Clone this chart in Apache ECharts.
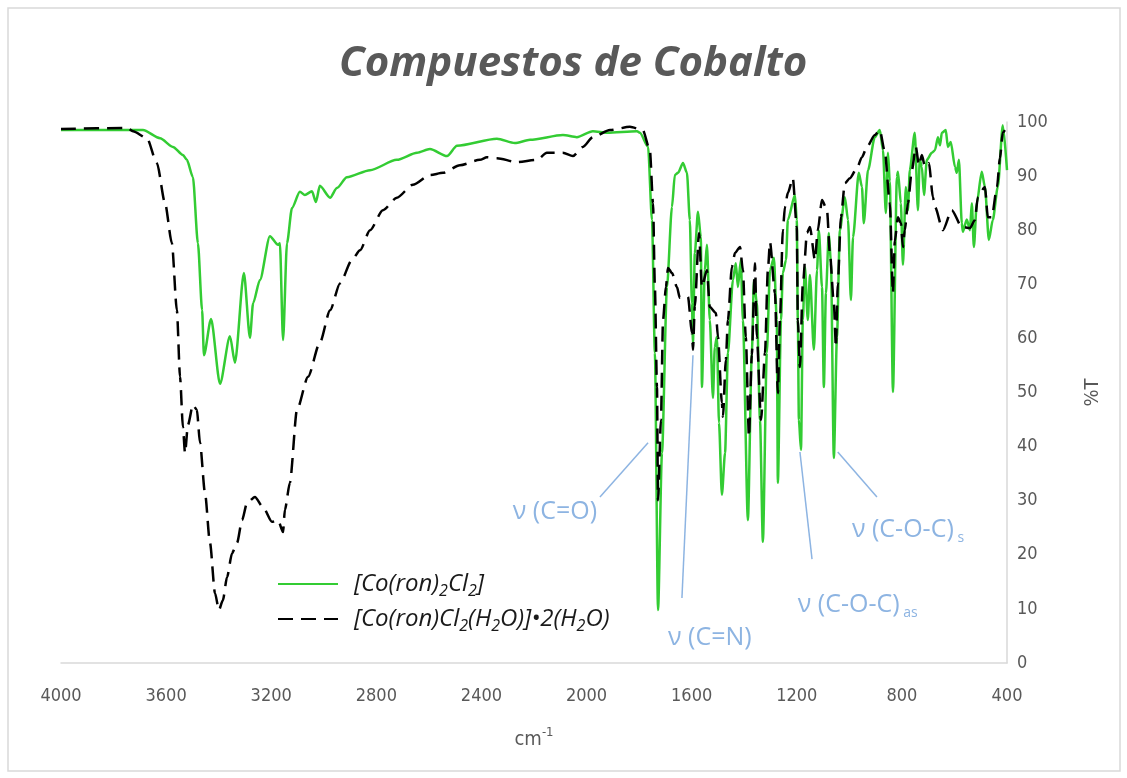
<!DOCTYPE html>
<html>
<head>
<meta charset="utf-8">
<script src="https://cdn.jsdelivr.net/npm/echarts@6/dist/echarts.min.js"></script>
<style>
html,body{margin:0;padding:0;background:#fff;}
#chart{width:1127px;height:778px;}
</style>
</head>
<body>
<div id="chart"></div>
<script>
// ---- data ----
const titleText = 'Compuestos de Cobalto';
const seriesNames = ['[Co(ron)2Cl2]', '[Co(ron)Cl2(H2O)]•2(H2O)'];
const xTicks = [4000, 3600, 3200, 2800, 2400, 2000, 1600, 1200, 800, 400];

const greenWn = [4000,3688,3623,3574,3536,3521,3498,3479,3463,3456,3429,3395,3357,3338,3304,3281,3269,3243,3205,3174,3167,3155,3140,3121,3091,3072,3045,3030,3015,2976,2950,2912,2824,2722,2645,2596,2531,2493,2341,2273,2215,2090,2037,1976,1922,1808,1797,1766,1751,1740,1728,1713,1694,1675,1664,1652,1633,1618,1607,1599,1595,1588,1576,1565,1561,1550,1542,1531,1519,1512,1504,1496,1485,1473,1462,1443,1432,1424,1413,1405,1386,1371,1363,1352,1340,1329,1314,1302,1287,1276,1272,1260,1253,1241,1234,1207,1200,1196,1192,1184,1177,1169,1158,1150,1135,1123,1116,1104,1097,1089,1078,1070,1059,1047,1036,1017,1005,994,986,964,952,945,929,903,884,872,861,853,846,834,819,815,804,796,785,777,770,751,739,732,724,716,705,686,674,663,655,648,633,625,614,598,591,583,572,568,553,541,534,526,515,496,484,469,454,435,416,400];
const greenT = [98.5,98.5,97,95.4,93.9,93,89.8,77.6,65.2,56.9,63.6,51.6,60.4,55.5,72.1,60.1,66.5,70.8,78.9,77.3,77.6,59.7,77.6,84.1,87.1,86.5,87.2,85.2,88.2,86,87.8,89.8,91.1,93,94.3,95,93.7,95.6,96.9,96.1,96.7,97.6,97.2,98.3,98,98.3,98,95.4,81.9,57.3,9.8,38.8,69.5,84.3,90.2,90.6,92.4,90.6,81.9,66.5,59.3,75.8,83.4,78.7,51,72.6,77.3,63.4,49,58.4,60.3,44.4,31.1,38.8,57.3,70.8,73.9,69.5,74.5,63.4,26.4,57.3,70.8,66.5,44.9,22.4,57.3,72.6,74.9,63.4,33.3,63.4,72.1,74.5,81.9,86.5,81.9,63.4,44.9,39.4,63.4,73.2,63.4,71.7,57.9,72.6,80,69.5,51,68.4,79.5,73.9,37.9,60.3,80,86.1,81.9,67.1,78.7,90.6,88,81.3,91.1,97.2,98.5,94.8,83.2,94.3,89,50.1,89.8,90.8,85,73.6,88,83.7,91.1,98,83.7,93,91.7,86.5,93,94.3,94.8,97.2,95.7,98,98.5,95.4,96.3,91.7,90.6,93,81.3,79.7,82,80,85,76.9,85,90.8,88,78.2,81.9,88,99.4,91.1];

const blackWn = [4000,3749,3726,3673,3635,3604,3578,3559,3547,3536,3528,3517,3498,3483,3471,3452,3433,3414,3399,3384,3368,3349,3330,3311,3292,3262,3231,3197,3174,3155,3148,3129,3102,3060,3015,2976,2938,2893,2862,2824,2775,2722,2661,2596,2546,2482,2406,2379,2341,2265,2189,2151,2090,2052,2014,1976,1911,1835,1786,1759,1747,1740,1732,1728,1717,1709,1698,1690,1675,1656,1645,1614,1599,1595,1588,1572,1561,1542,1531,1508,1500,1485,1481,1470,1462,1447,1435,1416,1405,1394,1382,1371,1359,1352,1336,1321,1310,1302,1283,1272,1264,1253,1245,1234,1215,1200,1196,1188,1177,1161,1150,1131,1120,1104,1085,1074,1059,1051,1044,1032,1017,998,971,952,933,903,884,865,846,834,827,815,804,796,789,777,762,747,735,724,712,697,682,674,644,610,572,541,522,511,484,473,458,438,427,416,408];
const blackT = [98.7,98.9,98.3,97,92.4,85,77.6,65.2,52.9,43.6,38.8,44,47.7,46.8,40.7,31.4,22.2,12.9,9.8,11.6,15.9,20.3,22.2,26.4,29.6,30.7,28.8,26.1,26.4,24.2,28.3,33.3,46.8,52.9,59.2,65.2,70.2,74.5,76.3,80,83.7,86,88.4,90.2,90.6,92,93,93.5,93.3,92.6,93,94.3,94.3,93.7,95.4,97.2,98.5,99.1,98.5,94.8,85,69.5,51,30.1,44.9,63.4,69.5,73,72.1,69.5,67.5,67.7,61,57.9,66,79.5,69.5,72.6,65.8,64.7,60.3,48.1,45.5,56,63.4,73.2,75.8,76.9,72.6,60.3,41.8,57,73.9,60.3,44.9,57.3,72.6,77.8,68.4,49.9,63.4,80,84.3,86.9,89.6,80.6,63.4,54.7,70,79.5,80.6,74.5,80,85.6,83.7,75.8,66.5,58.4,70,82.4,88.7,89.6,91.5,93.5,95.4,97.6,98.5,94.5,85,68.4,78,82.4,81.3,76.9,80,85,91.1,95.4,92,93.9,91.7,92.4,86.1,84.3,80,83.7,80.6,80.4,81.9,86.1,88,82.4,82.4,88,93.3,98,98.5];

// annotation labels: text, label anchor [wn, %T], pointer line from -> to
const annotations = [
  {main: 'ν (C=O)', sub: '', anchor: [1960, 27.9], align: 'right', from: [1949, 30.7], to: [1766, 40.7]},
  {main: 'ν (C=N)', sub: '', anchor: [1690, 4.6], align: 'left', from: [1637, 12], to: [1595, 56.9]},
  {main: 'ν (C-O-C)', sub: 'as', anchor: [1196, 10.7], align: 'left', from: [1142, 19.2], to: [1188, 39]},
  {main: 'ν (C-O-C)', sub: 's', anchor: [990, 24.6], align: 'left', from: [895, 30.7], to: [1044, 39]}
];

// ---- chart ----
const greenData = greenWn.map((w, i) => [w, greenT[i]]);
const blackData = blackWn.map((w, i) => [w, blackT[i]]);
const gray = '#595959';
const tickFont = '"Liberation Sans Narrow","DejaVu Sans Condensed","Open Sans",sans-serif';
const chart = echarts.init(document.getElementById('chart'), null, {renderer: 'canvas'});

const legendNames = {};
legendNames[seriesNames[0]] = '{g|}{t|[Co(ron)}{s|2}{t|Cl}{s|2}{t|]}';
legendNames[seriesNames[1]] = '{g|}{t|[Co(ron)Cl}{s|2}{t|(H}{s|2}{t|O)]•2(H}{s|2}{t|O)}';

chart.setOption({
  animation: false,
  backgroundColor: '#fff',
  title: {
    text: titleText,
    left: 334,
    top: 38,
    textStyle: {fontSize: 42, fontWeight: 'bold', fontStyle: 'italic', color: gray, fontFamily: '"Open Sans",sans-serif'}
  },
  grid: {left: 61, right: 120, top: 122, bottom: 115, containLabel: false},
  legend: {
    orient: 'vertical',
    left: 272,
    top: 567,
    itemWidth: 60,
    itemHeight: 14,
    itemGap: 8,
    itemStyle: {opacity: 0},
    formatter: n => legendNames[n],
    textStyle: {
      color: '#1a1a1a',
      rich: {
        g: {width: 11},
        t: {fontSize: 24, fontStyle: 'italic', fontFamily: '"Open Sans",sans-serif', color: '#1a1a1a', lineHeight: 30, verticalAlign: 'middle'},
        s: {fontSize: 16, fontStyle: 'italic', fontFamily: '"Open Sans",sans-serif', color: '#1a1a1a', lineHeight: 30, verticalAlign: 'bottom'}
      }
    },
    data: seriesNames
  },
  xAxis: {
    type: 'value',
    min: 400, max: 4000, interval: 400, inverse: true,
    axisLine: {show: true, onZero: false, lineStyle: {color: '#d9d9d9', width: 1.5}},
    axisTick: {show: false},
    splitLine: {show: false},
    axisLabel: {color: gray, fontSize: 18, fontFamily: tickFont, margin: 24,
      formatter: v => xTicks.indexOf(v) >= 0 ? String(v) : ''},
    name: '{a|cm}{b|-1}',
    nameLocation: 'middle',
    nameGap: 63,
    nameTextStyle: {
      rich: {
        a: {fontSize: 20, color: gray, fontFamily: tickFont, verticalAlign: 'bottom', lineHeight: 24},
        b: {fontSize: 13, color: gray, fontFamily: tickFont, verticalAlign: 'top', lineHeight: 24}
      }
    }
  },
  yAxis: {
    type: 'value',
    position: 'right',
    min: 0, max: 100, interval: 10,
    axisLine: {show: true, lineStyle: {color: '#d9d9d9', width: 1.5}},
    axisTick: {show: false},
    splitLine: {show: false},
    axisLabel: {color: gray, fontSize: 18, fontFamily: tickFont, margin: 10},
    name: '%T',
    nameLocation: 'middle',
    nameGap: 76,
    nameRotate: 90,
    nameTextStyle: {fontSize: 20, color: gray, fontFamily: tickFont}
  },
  series: [
    {
      name: seriesNames[0], type: 'line', data: greenData,
      showSymbol: false, symbol: 'none', smooth: 0.25, smoothMonotone: 'x',
      lineStyle: {color: '#33cc33', width: 2.5},
      itemStyle: {color: '#33cc33'},
      z: 3
    },
    {
      name: seriesNames[1], type: 'line', data: blackData,
      showSymbol: false, symbol: 'none', smooth: 0.25, smoothMonotone: 'x',
      lineStyle: {color: '#000', width: 2.5, type: [15, 8]},
      itemStyle: {color: '#000'},
      z: 4
    }
  ]
});

// annotations positioned through the chart's own coordinate system
const annColor = '#8db4e2';
const annFont = '"Liberation Sans Narrow","Open Sans",sans-serif';
const graphics = [{
  type: 'rect', shape: {x: 8, y: 8, width: 1112, height: 763},
  style: {fill: 'none', stroke: '#d9d9d9', lineWidth: 1.5}, silent: true, z: -1
}];
annotations.forEach(a => {
  const p1 = chart.convertToPixel({gridIndex: 0}, a.from);
  const p2 = chart.convertToPixel({gridIndex: 0}, a.to);
  const pa = chart.convertToPixel({gridIndex: 0}, a.anchor);
  graphics.push({
    type: 'line', shape: {x1: p1[0], y1: p1[1], x2: p2[0], y2: p2[1]},
    style: {stroke: annColor, lineWidth: 1.5}, silent: true, z: 10
  });
  graphics.push({
    type: 'text', x: pa[0], y: pa[1], z: 10,
    style: {
      text: a.sub ? '{m|' + a.main + '}{s| ' + a.sub + '}' : '{m|' + a.main + '}',
      align: a.align, verticalAlign: 'middle',
      rich: {
        m: {fontSize: 25, fill: annColor, fontFamily: annFont, lineHeight: 30, verticalAlign: 'middle'},
        s: {fontSize: 14, fill: annColor, fontFamily: annFont, lineHeight: 30, verticalAlign: 'bottom'}
      }
    }
  });
});
chart.setOption({graphic: graphics});
</script>
</body>
</html>
